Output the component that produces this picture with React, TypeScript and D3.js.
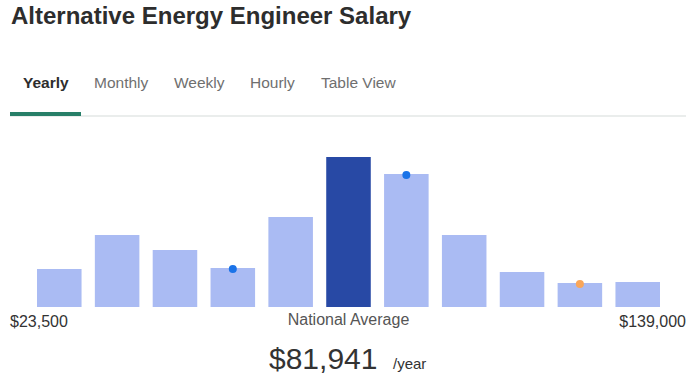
import React from "react";
import * as d3 from "d3";

const title = "Alternative Energy Engineer Salary";
const tabs = ["Yearly", "Monthly", "Weekly", "Hourly", "Table View"];
const tabX = [23, 94, 174, 250, 321];
const bins = ["b1", "b2", "b3", "b4", "b5", "b6", "b7", "b8", "b9", "b10", "b11"];
const binValues = [38, 72, 57, 39, 90, 150, 133, 72, 35, 24, 25];
const highlightBin = 5;
const markerBins = [3, 6, 9];
const markerColors = ["#1a73e8", "#1a73e8", "#f9a65a"];
const minLabel = "$23,500";
const maxLabel = "$139,000";
const midLabel = "National Average";
const avgLabel = "$81,941";
const unitLabel = "/year";

export default function App() {
  const W = 694, H = 376;
  const x = d3.scaleBand<string>().domain(bins).range([37, 660]).paddingInner(0.23).paddingOuter(0);
  const y = d3.scaleLinear().domain([0, 150]).range([307, 157]);
  const font = "'Liberation Sans', Arial, Helvetica, sans-serif";
  return (
    <svg width={W} height={H} style={{ position: "absolute", left: 0, top: 0, background: "#fff" }} fontFamily={font}>
      <text x={11} y={24} fontSize={24} fontWeight="bold" fill="#2d2d2d">{title}</text>
      {tabs.map((t, i) => (
        <text key={t} x={tabX[i]} y={88} fontSize={15.5} fontWeight={i === 0 ? "bold" : "normal"} fill={i === 0 ? "#2d2d2d" : "#6f6f6f"}>{t}</text>
      ))}
      <rect x={10} y={115.5} width={676} height={1} fill="#d6dbd9" />
      <rect x={10} y={112} width={71} height={4} fill="#277f68" />
      {bins.map((b, i) => (
        <rect key={b} x={x(b)} y={y(binValues[i])} width={x.bandwidth()} height={y(0) - y(binValues[i])}
          fill={i === highlightBin ? "#2849a5" : "#aabbf3"} />
      ))}
      {markerBins.map((bi, k) => (
        <circle key={k} cx={(x(bins[bi]) as number) + x.bandwidth() / 2} cy={y(binValues[bi]) + 1} r={4} fill={markerColors[k]} />
      ))}
      <text x={10} y={326.5} fontSize={16} fill="#333">{minLabel}</text>
      <text x={348.5} y={325} fontSize={16} fill="#555" textAnchor="middle">{midLabel}</text>
      <text x={686} y={326.5} fontSize={16} fill="#333" textAnchor="end">{maxLabel}</text>
      <text x={269} y={368.5} fontSize={30} fill="#333">{avgLabel}</text>
      <text x={393} y={368.5} fontSize={15} fill="#333">{unitLabel}</text>
    </svg>
  );
}
